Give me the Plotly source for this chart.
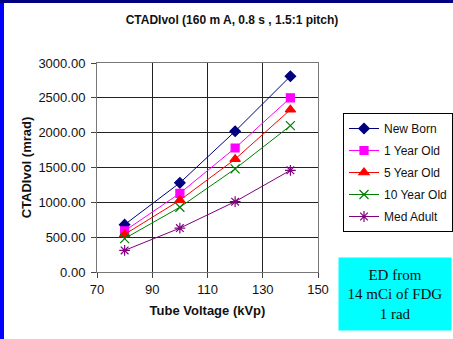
import plotly.graph_objects as go

kvp = [80, 100, 120, 140]
series_names = ["New Born", "1 Year Old", "5 Year Old", "10 Year Old", "Med Adult"]
new_born = [680, 1280, 2020, 2810]
one_year = [590, 1130, 1780, 2500]
five_year = [540, 1030, 1620, 2330]
ten_year = [480, 930, 1480, 2100]
med_adult = [310, 630, 1010, 1460]

values = [new_born, one_year, five_year, ten_year, med_adult]
colors = ["#000080", "#FF00FF", "#FF0000", "#008000", "#800080"]
symbols = ["diamond", "square", "triangle-up", "x-thin-open", "asterisk-open"]
sizes = [8, 8, 9, 9, 9]

W, H = 453, 339
L, R, T, B = 97, 318, 63, 272

fig = go.Figure()
for name, v, c, s, sz in zip(series_names, values, colors, symbols, sizes):
    fig.add_trace(go.Scatter(
        x=kvp, y=v, name=name, mode="lines+markers", legendgroup=name,
        line=dict(color=c, width=1),
        marker=dict(symbol=s, size=sz, color=c, line=dict(color=c, width=1.2)),
    ))

fig.update_layout(
    width=W, height=H,
    margin=dict(l=L, r=W - R, t=T, b=H - B, pad=0, autoexpand=False),
    paper_bgcolor="white", plot_bgcolor="white",
    font=dict(family="Liberation Sans, Arial", size=13, color="#111"),
    title=dict(text="<b>CTADIvol (160 m A, 0.8 s , 1.5:1 pitch)</b>",
               x=232 / W, xanchor="center", y=1 - 20 / H, yanchor="middle",
               font=dict(size=12, color="#111")),
    showlegend=True,
    legend=dict(xref="container", yref="container", x=343 / W, y=1 - 113 / H,
                xanchor="left", yanchor="top",
                bordercolor="black", borderwidth=1, bgcolor="white",
                font=dict(size=12, color="#111"), tracegroupgap=3, itemwidth=30,
                traceorder="grouped"),
    xaxis=dict(range=[70, 150], dtick=20, tick0=70, showgrid=True, gridcolor="#222", gridwidth=1,
               showline=True, linecolor="#777", mirror=True, ticks="outside", ticklen=5,
               tickcolor="#444", zeroline=False, tickfont=dict(size=13),
               title=dict(text="<b>Tube Voltage (kVp)</b>", font=dict(size=13), standoff=10)),
    yaxis=dict(range=[0, 3000], dtick=500, tickformat=".2f", showgrid=True, gridcolor="#222",
               gridwidth=1, showline=True, linecolor="#777", mirror=True, ticks="outside",
               ticklen=5, tickcolor="#444", zeroline=False, tickfont=dict(size=13),
               ticklabelstandoff=3,
               title=dict(text="<b>CTADIvol (mrad)</b>", font=dict(size=13), standoff=3)),
)

# Cyan info box
fig.add_annotation(
    xref="paper", yref="paper", x=(395 - L) / (R - L), y=(B - 294) / (B - T),
    xanchor="center", yanchor="middle", showarrow=False,
    text="ED from<br>14 mCi of FDG<br>1 rad", align="center",
    font=dict(family="Liberation Serif, Times New Roman", size=15, color="#111"),
    bgcolor="#00FFFF", width=110, height=70,
)

# Slide borders
fig.add_shape(type="rect", xref="paper", yref="paper",
              x0=-L / (R - L), x1=(-L + 4) / (R - L), y0=-(H - B) / (B - T), y1=B / (B - T),
              fillcolor="#0000FF", line=dict(width=0), layer="above")
fig.add_shape(type="rect", xref="paper", yref="paper",
              x0=-L / (R - L), x1=(W - L) / (R - L), y0=(B - 3) / (B - T), y1=B / (B - T),
              fillcolor="#000080", line=dict(width=0), layer="above")

fig.write_html("out.html")
